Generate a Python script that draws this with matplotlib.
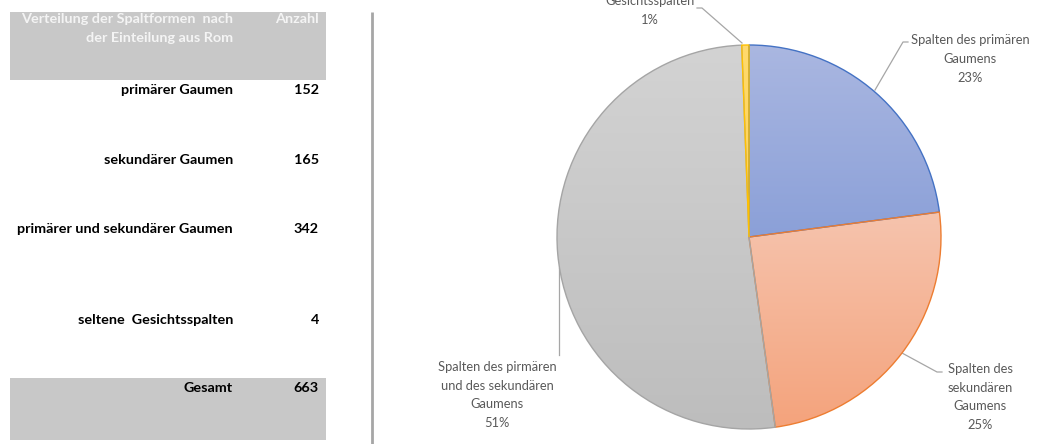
import matplotlib
matplotlib.use("Agg")
import matplotlib.pyplot as plt
import numpy as np
from matplotlib.colors import to_rgb

plt.rcParams['font.family'] = ['Lato', 'DejaVu Sans']

# ---- data ----
table_header = ["Verteilung der Spaltformen  nach", "der Einteilung aus Rom", "Anzahl"]
table_labels = ["primärer Gaumen", "sekundärer Gaumen", "primärer und sekundärer Gaumen", "seltene  Gesichtsspalten"]
table_counts = [152, 165, 342, 4]
total_label = "Gesamt"
total_count = 663

pie_names = ["Spalten des primären\nGaumens", "Spalten des\nsekundären\nGaumens",
             "Spalten des pirmären\nund des sekundären\nGaumens", "seltene\nGesichtsspalten"]
pie_values = [152, 165, 342, 4]
pie_pct_labels = ["23%", "25%", "51%", "1%"]

top_colors = ["#AAB7E1", "#F6C4AE", "#D3D3D3", "#FFDA6E"]
bot_colors = ["#8BA0D8", "#F4A37C", "#BDBDBD", "#FFD350"]
edge_colors = ["#4472C4", "#ED7D31", "#A5A5A5", "#FFC000"]

W, H = 1047, 444
fig = plt.figure(figsize=(W / 100, H / 100), dpi=100)

# overlay axes in pixel coordinates
ov = fig.add_axes([0, 0, 1, 1])
ov.set_xlim(0, W)
ov.set_ylim(H, 0)
ov.axis('off')

hdr_gray = "#C8C8C8"
fs_tab = 10.4
# header box
ov.add_patch(plt.Rectangle((10, 12), 316, 68, facecolor=hdr_gray, edgecolor='none'))
ov.text(233, 19, table_header[0], ha='right', va='center', fontsize=fs_tab, fontweight='bold', color='#F4F4F4')
ov.text(233, 38, table_header[1], ha='right', va='center', fontsize=fs_tab, fontweight='bold', color='#F4F4F4')
ov.text(319, 19, table_header[2], ha='right', va='center', fontsize=fs_tab, fontweight='bold', color='#F4F4F4')
row_y = [90, 160, 229, 320]
for lab, cnt, y in zip(table_labels, table_counts, row_y):
    ov.text(233, y, lab, ha='right', va='center', fontsize=fs_tab, fontweight='bold', color='black')
    ov.text(319, y, str(cnt), ha='right', va='center', fontsize=fs_tab, fontweight='bold', color='black')
ov.add_patch(plt.Rectangle((10, 378), 316, 62, facecolor=hdr_gray, edgecolor='none'))
ov.text(233, 388, total_label, ha='right', va='center', fontsize=fs_tab, fontweight='bold', color='black')
ov.text(319, 388, str(total_count), ha='right', va='center', fontsize=fs_tab, fontweight='bold', color='black')

# separator
ov.plot([372, 372], [12, 444], color='#A6A6A6', lw=2, solid_capstyle='butt')

# ---- pie ----
cx, cy, R = 749, 237, 192
pax = fig.add_axes([(cx - R) / W, (H - cy - R) / H, 2 * R / W, 2 * R / H])
wedges, _ = pax.pie(pie_values, startangle=90, counterclock=False, radius=1,
                    wedgeprops=dict(linewidth=1.0), frame=False)
pax.set_xlim(-1, 1)
pax.set_ylim(-1, 1)
pax.axis('off')
for w, tc, bc, ec in zip(wedges, top_colors, bot_colors, edge_colors):
    verts = w.get_path().vertices
    x0, x1 = verts[:, 0].min(), verts[:, 0].max()
    y0, y1 = verts[:, 1].min(), verts[:, 1].max()
    t = np.linspace(0, 1, 256)[:, None]
    top = np.array(to_rgb(tc)); bot = np.array(to_rgb(bc))
    grad = (top[None, :] * (1 - t) + bot[None, :] * t)[:, None, :]
    grad = np.repeat(grad, 2, axis=1)
    im = pax.imshow(grad, extent=(x0, x1, y0, y1), origin='upper', aspect='auto',
                    zorder=1, interpolation='bilinear')
    im.set_clip_path(w)
    w.set_facecolor('none')
    w.set_edgecolor(ec)
    w.set_zorder(2)
pax.set_xlim(-1, 1)
pax.set_ylim(-1, 1)

# ---- labels ----
lab_col = '#595959'
fs_lab = 9.3
ls = 1.67
label_pos = [(970, 59), (980, 397), (497, 395), (650, 1)]
for name, pct, (x, y) in zip(pie_names, pie_pct_labels, label_pos):
    ov.text(x, y, name + "\n" + pct, ha='center', va='center', fontsize=fs_lab, color=lab_col,
            linespacing=ls, multialignment='center')

lc = '#A6A6A6'
ov.plot([908, 903, 875], [42, 42, 90], color=lc, lw=0.9)
ov.plot([902, 937, 942], [353, 372, 372], color=lc, lw=0.9)
ov.plot([559, 559], [268, 355], color=lc, lw=0.9)
ov.plot([697, 702, 742], [8, 8, 43], color=lc, lw=0.9)

fig.savefig("out.png", dpi=100)
